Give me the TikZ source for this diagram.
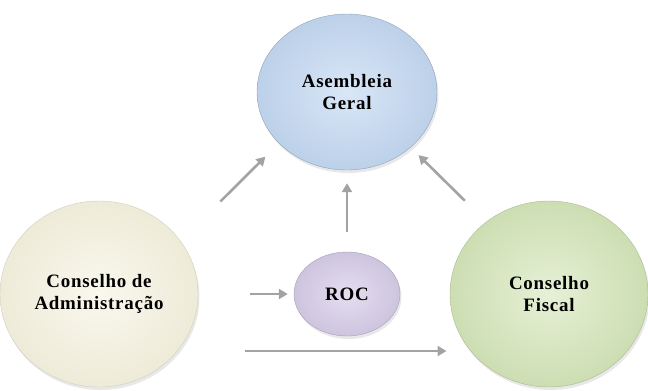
\documentclass[tikz,border=0pt]{standalone}
\usepackage{fontspec}
\setmainfont{Liberation Serif}
\newfontfamily\orgfont[LetterSpace=4]{Liberation Serif}
\usetikzlibrary{shapes.geometric,arrows.meta,shadows}
\definecolor{agfill}{HTML}{C4D9F3}
\definecolor{cafill}{HTML}{F5F2DF}
\definecolor{rocfill}{HTML}{D6CCE8}
\definecolor{cffill}{HTML}{D5E7BA}
\definecolor{arrgray}{HTML}{A3A3A3}
\begin{document}
\begin{tikzpicture}[x=1bp,y=-1bp,
  orgao/.style={ellipse,inner sep=0pt,align=center,font=\orgfont\fontsize{19}{22}\selectfont\bfseries,
    drop shadow={shadow xshift=1.5bp,shadow yshift=-3bp,opacity=.18}},
  seta/.style={draw=arrgray,line width=2.6bp,-{Triangle[length=9bp,width=10bp]}}]
\useasboundingbox (0,0) rectangle (648,390);
\node [orgao,minimum width=180bp,minimum height=156bp,draw=agfill!75!black,
  inner color=agfill!65!white,outer color=agfill!96!black] (ag) at (347,92) {Asembleia\\Geral};
\node [orgao,minimum width=198bp,minimum height=186bp,draw=cafill!85!black,
  inner color=cafill!55!white,outer color=cafill!97!black] (ca) at (99,294) {Conselho de\\Administração};
\node [orgao,minimum width=106bp,minimum height=84bp,draw=rocfill!78!black,
  inner color=rocfill!65!white,outer color=rocfill!96!black] (roc) at (347,294) {ROC};
\node [orgao,minimum width=198bp,minimum height=186bp,draw=cffill!80!black,
  inner color=cffill!60!white,outer color=cffill!96!black] (cf) at (549,294) {Conselho\\Fiscal};
\draw [seta,shorten <=56bp,shorten >=19bp] (ca.33) -- (ag.217);
\draw [seta,shorten <=20bp,shorten >=13bp] (roc.north) -- (ag.south);
\draw [seta,shorten <=30bp,shorten >=11bp] (cf.131) -- (ag.319);
\draw [seta,shorten <=52bp,shorten >=6bp] (ca.east) -- (roc.west);
\draw [seta,shorten <=68bp,shorten >=24bp] (ca.-36) -- (cf.216);
\end{tikzpicture}
\end{document}
